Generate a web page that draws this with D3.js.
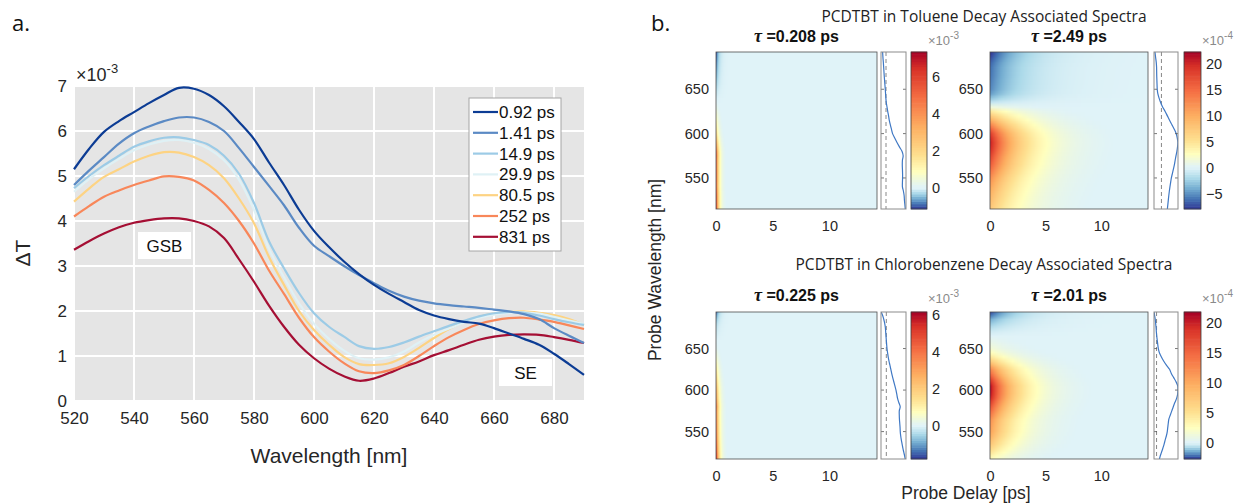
<!DOCTYPE html>
<html>
<head>
<meta charset="utf-8">
<script src="https://cdn.jsdelivr.net/npm/d3@7"></script>
<style>
  body { margin: 0; background: #fff; }
  svg { display: block; }
</style>
</head>
<body>
<svg id="fig" width="1239" height="504"></svg>
<script>
// ---------- panel a: transient spectra ----------
const wl = [520,525,530,535,540,545,550,555,560,565,570,575,580,585,590,595,600,605,610,615,620,625,630,635,640,645,650,655,660,665,670,675,680,685,690];
const dt092 = [5.15,5.6,5.98,6.22,6.42,6.62,6.8,6.96,6.94,6.8,6.55,6.2,5.82,5.3,4.8,4.25,3.78,3.42,3.1,2.82,2.58,2.38,2.2,2.02,1.9,1.82,1.76,1.72,1.62,1.5,1.38,1.25,1.05,0.82,0.58];
const dt141 = [4.8,5.12,5.42,5.72,5.95,6.1,6.22,6.3,6.3,6.2,6.0,5.62,5.2,4.78,4.35,3.85,3.45,3.22,3.0,2.8,2.62,2.45,2.32,2.23,2.17,2.13,2.1,2.07,2.03,1.99,1.93,1.82,1.62,1.45,1.29];
const dt149 = [4.73,5.0,5.24,5.45,5.65,5.77,5.85,5.86,5.8,5.69,5.45,5.05,4.4,3.55,2.95,2.4,1.95,1.65,1.43,1.22,1.16,1.2,1.3,1.43,1.55,1.67,1.78,1.88,1.95,1.98,1.96,1.9,1.82,1.75,1.69];
const dt299 = [4.65,4.93,5.17,5.38,5.57,5.7,5.78,5.8,5.74,5.6,5.35,4.92,4.25,3.38,2.75,2.17,1.72,1.38,1.12,0.95,0.92,0.97,1.1,1.3,1.47,1.61,1.74,1.85,1.92,1.96,1.97,1.94,1.87,1.79,1.71];
const dt805 = [4.43,4.72,4.98,5.15,5.32,5.45,5.53,5.52,5.42,5.24,4.95,4.5,3.95,3.2,2.58,2.0,1.58,1.25,0.98,0.82,0.8,0.84,0.98,1.18,1.4,1.6,1.75,1.87,1.94,1.98,1.99,1.96,1.91,1.82,1.69];
const dt252 = [4.1,4.33,4.54,4.68,4.8,4.9,4.99,4.98,4.9,4.69,4.4,4.0,3.5,2.9,2.38,1.85,1.42,1.1,0.84,0.66,0.62,0.68,0.8,1.0,1.22,1.42,1.58,1.71,1.79,1.84,1.85,1.81,1.76,1.68,1.6];
const dt831 = [3.36,3.55,3.72,3.86,3.96,4.02,4.06,4.06,4.0,3.88,3.62,3.15,2.65,2.12,1.65,1.25,0.95,0.72,0.55,0.45,0.5,0.62,0.76,0.88,1.02,1.13,1.25,1.36,1.43,1.47,1.48,1.47,1.42,1.36,1.29];
const delayLabels = ['0.92 ps','1.41 ps','14.9 ps','29.9 ps','80.5 ps','252 ps','831 ps'];
const delayColors = ['#0c3c94','#5b8ac4','#9ccbe6','#dff1f5','#fdd383','#f8875a','#a50f34'];
const xTicksA = [520,540,560,580,600,620,640,660,680];
const yTicksA = [0,1,2,3,4,5,6,7];

// ---------- panel b: decay associated spectra ----------
const dasWl = [515,520,525,530,535,540,545,550,555,560,565,570,575,580,585,590,595,600,605,610,615,620,625,630,635,640,645,650,655,660,665,670,675,680,685,690,695];
const dasTolFast = [6.75,6.6,6.45,6.35,6.1,5.75,5.75,5.8,5.8,5.75,5.7,5.75,6.0,5.6,4.7,3.85,3.05,2.3,1.9,1.5,1.15,0.9,0.6,0.35,0.1,-0.05,-0.15,-0.25,-0.38,-0.5,-0.62,-0.72,-0.82,-0.92,-1.05,-1.15,-1.22];
const dasTolSlow = [7.6,8.2,8.8,9.4,10.1,10.9,11.8,12.7,14.0,15.3,16.6,17.6,18.6,19.8,20.6,21.0,20.3,18.9,16.4,13.4,10.4,7.6,4.8,1.5,-1.0,-3.0,-4.6,-5.35,-5.6,-5.8,-6.0,-6.1,-6.2,-6.6,-7.3,-8.0,-8.5];
const dasCbFast = [6.15,5.9,5.6,5.3,5.05,4.8,4.6,4.46,4.4,4.3,4.2,4.15,4.15,4.45,4.0,3.6,3.35,3.1,2.75,2.4,2.05,1.72,1.45,1.15,0.85,0.6,0.4,0.22,0.1,0.0,-0.1,-0.2,-0.3,-0.5,-0.8,-1.2,-1.75];
const dasCbSlow = [2.5,3.6,5.0,6.4,7.7,8.8,10.0,10.9,11.4,11.9,12.5,14.0,15.5,17.0,18.6,20.4,21.4,21.7,21.5,19.8,17.4,15.0,13.2,10.0,7.2,4.8,2.9,1.8,1.2,0.7,0.2,-0.2,-0.5,-0.9,-1.3,-2.0,-2.6];
const taus = [0.208, 2.49, 0.225, 2.01];
const tauLabels = ['0.208 ps','2.49 ps','0.225 ps','2.01 ps'];
const cLims = [[-1.13,7.35],[-7.9,22.3],[-1.78,6.15],[-2.6,21.8]];
const sideLims = [[-1.75,7.0],[-9.5,21.2],[-1.7,6.3],[-2.6,21.8]];
const cTicks = [[0,2,4,6],[-5,0,5,10,15,20],[0,2,4,6],[0,5,10,15,20]];
const cExps = ['-3','-4','-3','-4'];
const wlTicks = [550,600,650];
const delayTicks = [0,5,10];
const sectionTitles = ['PCDTBT in Toluene Decay Associated Spectra','PCDTBT in Chlorobenzene Decay Associated Spectra'];

const svg = d3.select('#fig');
const ink = '#262626';
const sans = '"Liberation Sans", Arial, Helvetica, sans-serif';
const myriad = '"Open Sans", "Noto Sans", sans-serif';

// ================= panel a =================
const A = { x0: 74, x1: 584, y0: 86, y1: 401 };
const x = d3.scaleLinear().domain([520, 690]).range([A.x0, A.x1]);
const y = d3.scaleLinear().domain([0, 7]).range([A.y1, A.y0]);

svg.append('text').attr('x', 12).attr('y', 31)
  .style('font-family', myriad).style('font-size', '22px').attr('fill', '#111').text('a.');

svg.append('rect').attr('x', A.x0).attr('y', A.y0)
  .attr('width', A.x1 - A.x0).attr('height', A.y1 - A.y0).attr('fill', '#e5e5e5');

const grid = svg.append('g').attr('stroke', '#fff').attr('stroke-width', 2);
grid.selectAll('line.gx').data(xTicksA).join('line').attr('class', 'gx')
  .attr('x1', d => x(d)).attr('x2', d => x(d)).attr('y1', A.y0).attr('y2', A.y1);
grid.selectAll('line.gy').data(yTicksA).join('line').attr('class', 'gy')
  .attr('y1', d => y(d)).attr('y2', d => y(d)).attr('x1', A.x0).attr('x2', A.x1);

const xAxisA = svg.append('g').attr('transform', `translate(0,${A.y1})`)
  .call(d3.axisBottom(x).tickValues(xTicksA).tickFormat(d3.format('d')).tickSize(0).tickPadding(11));
const yAxisA = svg.append('g').attr('transform', `translate(${A.x0},0)`)
  .call(d3.axisLeft(y).tickValues(yTicksA).tickFormat(d3.format('d')).tickSize(0).tickPadding(7));
[xAxisA, yAxisA].forEach(ax => {
  ax.select('.domain').remove();
  ax.selectAll('text').style('font-family', sans).style('font-size', '17px').attr('fill', ink);
});
yAxisA.selectAll('text').attr('dy', '0.3em');

svg.append('text').attr('x', 76).attr('y', 81)
  .style('font-family', sans).style('font-size', '18px').attr('fill', ink)
  .text('×10').append('tspan').attr('dy', -8).style('font-size', '13px').text('-3');

svg.append('text').attr('transform', 'translate(30,253) rotate(-90)')
  .attr('text-anchor', 'middle')
  .style('font-family', sans).style('font-size', '21px').attr('fill', ink).text('ΔT');
svg.append('text').attr('x', 329).attr('y', 463).attr('text-anchor', 'middle')
  .style('font-family', sans).style('font-size', '21px').attr('fill', ink).text('Wavelength [nm]');

const series = [dt092, dt141, dt149, dt299, dt805, dt252, dt831].map((v, i) => ({
  label: delayLabels[i], color: delayColors[i], values: v
}));

const line = d3.line().x((d, i) => x(wl[i])).y(d => y(d)).curve(d3.curveCatmullRom);
svg.append('g').selectAll('path').data(series.slice().reverse()).join('path')
  .attr('d', d => line(d.values))
  .attr('fill', 'none').attr('stroke', d => d.color).attr('stroke-width', 2.2);

// annotation boxes
[['GSB', 138, 232], ['SE', 499, 359]].forEach(([t, bx, by]) => {
  svg.append('rect').attr('x', bx).attr('y', by).attr('width', 53).attr('height', 27).attr('fill', '#fff');
  svg.append('text').attr('x', bx + 26.5).attr('y', by + 19.5).attr('text-anchor', 'middle')
    .style('font-family', sans).style('font-size', '17px').attr('fill', '#111').text(t);
});

// legend
const leg = svg.append('g');
leg.append('rect').attr('x', 469).attr('y', 98).attr('width', 92).attr('height', 153)
  .attr('fill', '#fff').attr('stroke', '#a6a6a6').attr('stroke-width', 1);
const legRow = leg.selectAll('g').data(series).join('g')
  .attr('transform', (d, i) => `translate(0,${112 + i * 20.8})`);
legRow.append('line').attr('x1', 473).attr('x2', 498)
  .attr('stroke', d => d.color).attr('stroke-width', 2.2);
legRow.append('text').attr('x', 499).attr('y', 6)
  .style('font-family', sans).style('font-size', '17px').attr('fill', '#111').text(d => d.label);

// ================= panel b =================
svg.append('text').attr('x', 651).attr('y', 31)
  .style('font-family', myriad).style('font-size', '22px').attr('fill', '#111').text('b.');

sectionTitles.forEach((t, i) => {
  svg.append('text').attr('x', 984).attr('y', i === 0 ? 22 : 270).attr('text-anchor', 'middle')
    .style('font-family', myriad).style('font-size', '15.5px').attr('fill', '#222').text(t);
});

svg.append('text').attr('transform', 'translate(661,270) rotate(-90)').attr('text-anchor', 'middle')
  .style('font-family', sans).style('font-size', '17.5px').attr('fill', ink).text('Probe Wavelength [nm]');
svg.append('text').attr('x', 966).attr('y', 499).attr('text-anchor', 'middle')
  .style('font-family', sans).style('font-size', '17.5px').attr('fill', ink).text('Probe Delay [ps]');

const posRamp = d3.scaleLinear().domain([0, 0.01, 0.12, 0.24, 0.45, 0.67, 0.88, 1])
  .range(['#e0f3f8', '#e0f3f8', '#ffffbf', '#fee090', '#fdae61', '#f46d43', '#d73027', '#a50026']).clamp(true);
const negRamp = d3.scaleLinear().domain([0, 0.25, 0.5, 0.75, 1])
  .range(['#e0f3f8', '#abd9e9', '#74add1', '#4575b4', '#313695']).clamp(true);

function dasColor(v, lim) {
  return v >= 0 ? posRamp(v / lim[1]) : negRamp(v / lim[0]);
}

const cols = [
  { hx: [716, 877], sx: [881, 906], cx: [911, 927], tmax: 14.2 },
  { hx: [990, 1148], sx: [1154, 1178], cx: [1184, 1201], tmax: 14.2 }
];
const rows = [
  { y: [52, 209], wl: [515, 692], titleY: 42, expY: 45 },
  { y: [312, 459], wl: [517, 694], titleY: 301, expY: 303 }
];
const amps = [dasTolFast, dasTolSlow, dasCbFast, dasCbSlow];

amps.forEach((amp, k) => {
  const c = cols[k % 2], r = rows[Math.floor(k / 2)];
  const lim = cLims[k];
  const g = svg.append('g');
  const tx = d3.scaleLinear().domain([0, c.tmax]).range(c.hx);
  const wy = d3.scaleLinear().domain(r.wl).range([r.y[1], r.y[0]]);
  const cw = Math.round(c.hx[1] - c.hx[0]), ch = Math.round(r.y[1] - r.y[0]);

  // heat map: amplitude(λ) * exp(-t/τ), one canvas row per measured wavelength,
  // stretched over the wavelength span so the browser smooths between rows
  const cv = document.createElement('canvas');
  cv.width = cw; cv.height = dasWl.length;
  const ctx = cv.getContext('2d');
  for (let px = 0; px < cw; px++) {
    const t = tx.invert(c.hx[0] + px + 0.5);
    dasWl.forEach((w, i) => {
      const v = amp[i] * Math.exp(-t / taus[k]);
      ctx.fillStyle = dasColor(v, lim);
      ctx.fillRect(px, dasWl.length - 1 - i, 1, 1);
    });
  }
  const clipH = 'hclip' + k;
  g.append('clipPath').attr('id', clipH).append('rect')
    .attr('x', c.hx[0]).attr('y', r.y[0]).attr('width', cw).attr('height', ch);
  const yTop = wy(dasWl[dasWl.length - 1] + 2.5), yBot = wy(dasWl[0] - 2.5);
  g.append('image').attr('href', cv.toDataURL())
    .attr('x', c.hx[0]).attr('y', yTop).attr('width', cw).attr('height', yBot - yTop)
    .attr('preserveAspectRatio', 'none').attr('clip-path', `url(#${clipH})`);
  g.append('rect').attr('x', c.hx[0]).attr('y', r.y[0]).attr('width', cw).attr('height', ch)
    .attr('fill', 'none').attr('stroke', '#4d4d4d').attr('stroke-width', 0.8);

  const xa = g.append('g').attr('transform', `translate(0,${r.y[1]})`)
    .call(d3.axisBottom(tx).tickValues(delayTicks).tickSize(0).tickPadding(12));
  const ya = g.append('g').attr('transform', `translate(${c.hx[0]},0)`)
    .call(d3.axisLeft(wy).tickValues(wlTicks).tickSize(0).tickPadding(7));
  [xa, ya].forEach(ax => {
    ax.select('.domain').remove();
    ax.selectAll('text').style('font-family', sans).style('font-size', '14.5px').attr('fill', ink);
  });

  const tt = g.append('text').attr('x', (c.hx[0] + c.hx[1]) / 2).attr('y', r.titleY)
    .attr('text-anchor', 'middle').style('font-family', sans).style('font-size', '16px')
    .style('font-weight', 'bold').attr('fill', '#111');
  tt.append('tspan').style('font-family', '"Liberation Serif", "DejaVu Serif", serif')
    .style('font-style', 'italic').style('font-size', '18px').text('τ');
  tt.append('tspan').text(' =' + tauLabels[k]);

  // side spectrum
  const sx = d3.scaleLinear().domain(sideLims[k]).range(c.sx);
  const clipId = 'sclip' + k;
  g.append('clipPath').attr('id', clipId).append('rect')
    .attr('x', c.sx[0]).attr('y', r.y[0]).attr('width', c.sx[1] - c.sx[0]).attr('height', ch);
  g.append('rect').attr('x', c.sx[0]).attr('y', r.y[0]).attr('width', c.sx[1] - c.sx[0]).attr('height', ch)
    .attr('fill', '#fff');
  g.append('line').attr('x1', sx(0)).attr('x2', sx(0)).attr('y1', r.y[0]).attr('y2', r.y[1])
    .attr('stroke', '#7a7a7a').attr('stroke-width', 0.9).attr('stroke-dasharray', '4,3');
  const sLine = d3.line().x(d => sx(d)).y((d, i) => wy(dasWl[i])).curve(d3.curveCatmullRom);
  g.append('path').attr('d', sLine(amp)).attr('clip-path', `url(#${clipId})`)
    .attr('fill', 'none').attr('stroke', '#3f78c4').attr('stroke-width', 1.2);
  g.append('g').selectAll('line').data(wlTicks.flatMap(w => [[c.sx[0], w, 1], [c.sx[1], w, -1]])).join('line')
    .attr('x1', d => d[0]).attr('x2', d => d[0] + 3 * d[2])
    .attr('y1', d => wy(d[1])).attr('y2', d => wy(d[1]))
    .attr('stroke', '#555').attr('stroke-width', 0.8);
  g.append('rect').attr('x', c.sx[0]).attr('y', r.y[0]).attr('width', c.sx[1] - c.sx[0]).attr('height', ch)
    .attr('fill', 'none').attr('stroke', '#8c8c8c').attr('stroke-width', 1);

  // colour bar
  const cy = d3.scaleLinear().domain(lim).range([r.y[1], r.y[0]]);
  const steps = d3.range(64).map(j => lim[0] + (j + 0.5) / 64 * (lim[1] - lim[0]));
  const stepH = (r.y[1] - r.y[0]) / 64;
  g.append('g').selectAll('rect').data(steps).join('rect')
    .attr('x', c.cx[0]).attr('width', c.cx[1] - c.cx[0])
    .attr('y', d => cy(d) - stepH / 2 - 0.3).attr('height', stepH + 0.6)
    .attr('fill', d => dasColor(d, lim));
  g.append('rect').attr('x', c.cx[0]).attr('y', r.y[0]).attr('width', c.cx[1] - c.cx[0]).attr('height', ch)
    .attr('fill', 'none').attr('stroke', '#3a3a3a').attr('stroke-width', 0.8);
  const ca = g.append('g').attr('transform', `translate(${c.cx[1]},0)`)
    .call(d3.axisRight(cy).tickValues(cTicks[k]).tickSize(0).tickPadding(5));
  ca.select('.domain').remove();
  ca.selectAll('text').style('font-family', sans).style('font-size', '14.5px').attr('fill', ink);

  g.append('text').attr('x', c.cx[1] + 1).attr('y', r.expY)
    .style('font-family', sans).style('font-size', '13px').attr('fill', '#8a8a8a')
    .text('×10').append('tspan').attr('dy', -6).style('font-size', '10px').text(cExps[k]);
});
</script>
</body>
</html>
